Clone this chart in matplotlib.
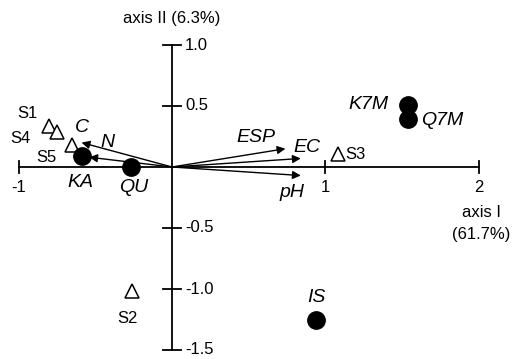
import matplotlib
matplotlib.use("Agg")
import matplotlib.pyplot as plt

plt.rcParams['font.family'] = ['Liberation Sans', 'DejaVu Sans']

# Sites (open triangles)
site_names = ["S1", "S4", "S5", "S3", "S2"]
site_x = [-0.80, -0.75, -0.65, 1.08, -0.26]
site_y = [0.34, 0.29, 0.18, 0.11, -1.02]

# Species / groups (filled circles)
group_names = ["KA", "QU", "K7M", "Q7M", "IS"]
group_x = [-0.59, -0.27, 1.54, 1.54, 0.94]
group_y = [0.09, 0.00, 0.51, 0.39, -1.25]

# Environmental vectors (arrows)
vec_names = ["C", "N", "ESP", "EC", "pH"]
vec_x = [-0.59, -0.54, 0.74, 0.84, 0.84]
vec_y = [0.20, 0.08, 0.15, 0.07, -0.07]

# Axis ticks
xticks = [-1, 1, 2]
xtick_labels = ["-1", "1", "2"]
yticks = [1.0, 0.5, -0.5, -1.0, -1.5]
ytick_labels = ["1.0", "0.5", "-0.5", "-1.0", "-1.5"]

fig = plt.figure(figsize=(5.17, 3.59), dpi=100)
ax = fig.add_axes([0, 0, 1, 1])
sx = 153.3
sy = 122.0
ax.set_xlim(-172 / sx, (517 - 172) / sx)
ax.set_ylim((167 - 359) / sy, 167 / sy)
ax.axis("off")

fs = 12
fsi = 14
# axes lines
ax.plot([-1, 2], [0, 0], color="black", lw=1.3)
ax.plot([0, 0], [-1.5, 1.0], color="black", lw=1.3)
for t, lab in zip(xticks, xtick_labels):
    ax.plot([t, t], [-6 / sy, 6 / sy], color="black", lw=1.3)
    ax.text(t, -21 / sy, lab, ha="center", va="center", fontsize=fs)
for t, lab in zip(yticks, ytick_labels):
    ax.plot([-9 / sx, 9 / sx], [t, t], color="black", lw=1.3)
    ax.text(13 / sx, t, lab, ha="left", va="center", fontsize=fs)

ax.text(0, 1.22, "axis II (6.3%)", ha="center", va="center", fontsize=fs)
ax.text(2.016, -0.46, "axis I\n(61.7%)", ha="center", va="center", fontsize=fs,
        linespacing=1.6)

# arrows
for n, x, y in zip(vec_names, vec_x, vec_y):
    ax.annotate("", xy=(x, y), xytext=(0, 0),
                arrowprops=dict(arrowstyle="-|>", color="black", lw=1.0,
                                mutation_scale=12, shrinkA=0, shrinkB=0))

vec_lab = {"C": (-0.59, 0.32), "N": (-0.42, 0.20), "ESP": (0.55, 0.24),
           "EC": (0.88, 0.16), "pH": (0.78, -0.21)}
for n in vec_names:
    lx, ly = vec_lab[n]
    ax.text(lx, ly, n, ha="center", va="center", fontsize=fsi, style="italic")

# sites
ax.plot(site_x, site_y, linestyle="none", marker="^", markersize=10,
        markerfacecolor="white", markeredgecolor="black", markeredgewidth=1.1)
site_lab = {"S1": (-0.94, 0.44, "center"), "S4": (-0.99, 0.23, "center"),
            "S5": (-0.82, 0.08, "center"), "S3": (1.13, 0.10, "left"),
            "S2": (-0.29, -1.24, "center")}
for n in site_names:
    lx, ly, ha = site_lab[n]
    ax.text(lx, ly, n, ha=ha, va="center", fontsize=fs)

# groups
ax.plot(group_x, group_y, linestyle="none", marker="o", markersize=12.5,
        color="black")
grp_lab = {"KA": (-0.60, -0.13, "center"), "QU": (-0.25, -0.17, "center"),
           "K7M": (1.28, 0.51, "center"), "Q7M": (1.76, 0.38, "center"),
           "IS": (0.94, -1.07, "center")}
for n in group_names:
    lx, ly, ha = grp_lab[n]
    ax.text(lx, ly, n, ha=ha, va="center", fontsize=fsi, style="italic")

fig.savefig("out.png", dpi=100)
